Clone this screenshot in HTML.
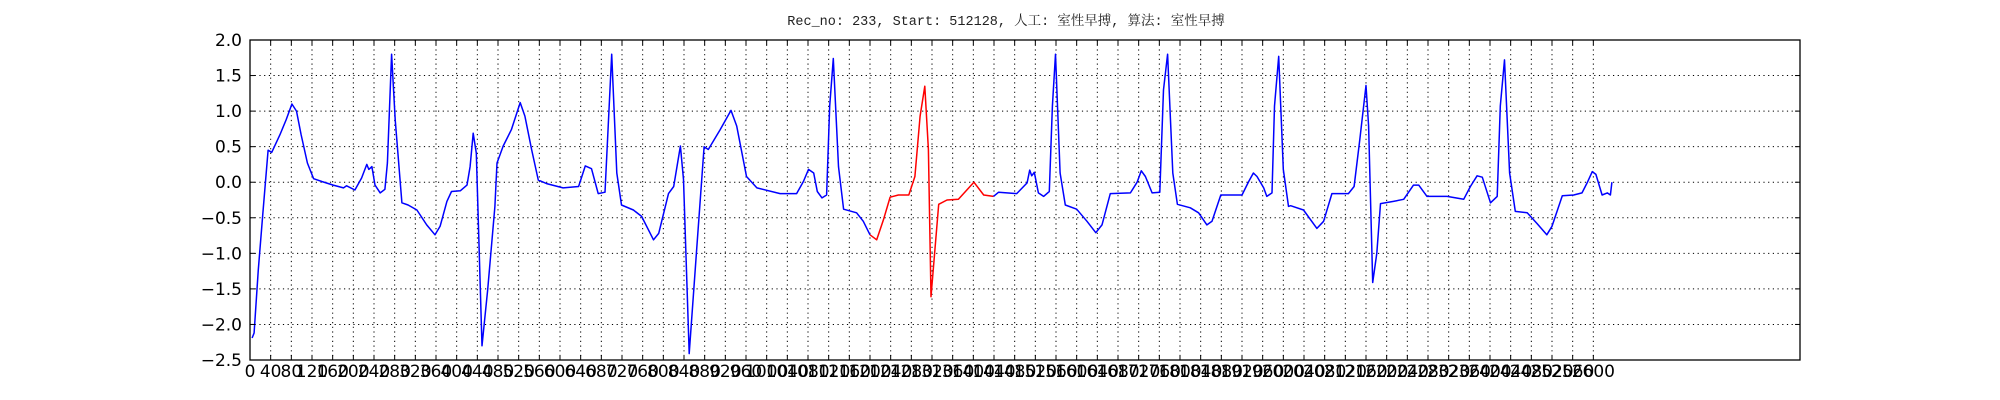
<!DOCTYPE html>
<html><head><meta charset="utf-8">
<style>
html,body{margin:0;padding:0;background:#fff;}
svg{display:block;}
text{font-family:"DejaVu Sans","Liberation Sans",sans-serif;}
</style></head>
<body>
<svg id="chart" width="2000" height="400" xmlns="http://www.w3.org/2000/svg">
  <rect width="2000" height="400" fill="#fff"/>
  <text x="1006" y="25" text-anchor="middle" font-size="13.5" fill="#222" style="font-family:'Liberation Mono','Noto Serif CJK SC',monospace">Rec_no: 233, Start: 512128, 人工: 室性早搏, 算法: 室性早搏</text>
  <g id="grid"></g>
  <g id="series"></g>
  <rect x="250" y="40" width="1550" height="320" fill="none" stroke="#000" stroke-width="1.3"/>
  <g id="ticks"></g>
</svg>
<script>
const samples = [4,8,16,25,35,42,58,70,81,90,99,111,123,139,161,181,187,203,216,226,230,236,242,252,261,266,274,281,294,306,323,342,358,368,381,390,407,420,426,432,438,449,460,474,478,490,506,523,532,545,558,574,606,636,649,661,674,687,700,710,719,742,758,781,791,810,820,833,839,850,865,879,887,910,931,942,961,981,1026,1058,1071,1081,1091,1098,1107,1116,1122,1129,1139,1149,1174,1187,1200,1213,1226,1239,1255,1275,1287,1297,1306,1313,1318,1333,1349,1371,1401,1420,1439,1449,1484,1504,1509,1513,1518,1526,1536,1547,1553,1559,1568,1578,1600,1620,1637,1649,1665,1704,1717,1725,1733,1746,1761,1768,1776,1786,1795,1820,1836,1852,1862,1879,1920,1933,1942,1949,1962,1968,1978,1983,1991,2000,2010,2014,2039,2065,2078,2094,2126,2137,2148,2160,2165,2173,2181,2188,2213,2233,2252,2262,2278,2317,2349,2362,2375,2385,2401,2414,2420,2428,2438,2449,2472,2491,2510,2520,2540,2562,2578,2588,2598,2605,2617,2627,2633,2636];
const values = [-2.19,-2.12,-1.23,-0.43,0.45,0.42,0.67,0.88,1.10,1.0,0.67,0.27,0.05,0.01,-0.04,-0.08,-0.05,-0.11,0.06,0.25,0.18,0.22,-0.04,-0.15,-0.10,0.27,1.80,0.88,-0.29,-0.32,-0.39,-0.60,-0.74,-0.62,-0.27,-0.13,-0.12,-0.04,0.22,0.69,0.41,-2.30,-1.51,-0.34,0.27,0.51,0.74,1.12,0.93,0.46,0.03,-0.02,-0.08,-0.06,0.23,0.19,-0.16,-0.14,1.80,0.13,-0.32,-0.39,-0.48,-0.81,-0.72,-0.16,-0.06,0.51,0.04,-2.41,-0.90,0.50,0.46,0.74,1.01,0.79,0.08,-0.08,-0.16,-0.16,0.01,0.18,0.13,-0.13,-0.22,-0.18,1.07,1.74,0.22,-0.38,-0.43,-0.55,-0.74,-0.81,-0.53,-0.21,-0.18,-0.18,0.08,0.93,1.35,0.46,-1.61,-0.31,-0.25,-0.24,0.0,-0.18,-0.20,-0.14,-0.16,-0.01,0.17,0.09,0.14,-0.15,-0.20,-0.13,1.07,1.80,0.13,-0.32,-0.38,-0.55,-0.71,-0.60,-0.16,-0.15,0.0,0.16,0.08,-0.15,-0.14,1.30,1.80,0.13,-0.31,-0.36,-0.43,-0.60,-0.55,-0.18,-0.18,0.01,0.13,0.08,-0.08,-0.20,-0.15,1.07,1.77,0.18,-0.34,-0.33,-0.39,-0.65,-0.55,-0.16,-0.16,-0.06,0.60,1.36,0.79,-1.41,-1.0,-0.30,-0.27,-0.24,-0.04,-0.04,-0.20,-0.20,-0.24,-0.06,0.09,0.07,-0.29,-0.20,1.07,1.72,0.13,-0.41,-0.43,-0.58,-0.74,-0.62,-0.19,-0.18,-0.15,-0.01,0.15,0.11,-0.18,-0.15,-0.18,0.0];
const redStart = 1200;
const redEnd = 1439;
const yTicks = [2.0,1.5,1.0,0.5,0.0,-0.5,-1.0,-1.5,-2.0,-2.5];
const yTickLabels = ["2.0","1.5","1.0","0.5","0.0","\u22120.5","\u22121.0","\u22121.5","\u22122.0","\u22122.5"];
const xTickStep = 40;
const xTickMax = 2600;

const X0=250,X1=1800,Y0=40,Y1=360,XMIN=0,XMAX=3000,YMIN=-2.5,YMAX=2.0;
function xs(v){return X0+(v-XMIN)/(XMAX-XMIN)*(X1-X0);}
function ys(v){return Y1-(v-YMIN)/(YMAX-YMIN)*(Y1-Y0);}
const NS="http://www.w3.org/2000/svg";
const grid=document.getElementById('grid'),ticks=document.getElementById('ticks'),series=document.getElementById('series');
function mk(tag,attrs,parent){const e=document.createElementNS(NS,tag);for(const k in attrs)e.setAttribute(k,attrs[k]);parent.appendChild(e);return e;}

for(let i=0;i<yTicks.length;i++){
  const y=ys(yTicks[i]);
  const g=mk('line',{x1:X0,x2:X1,y1:y,y2:y,stroke:'#000','stroke-width':1,'stroke-dasharray':'1.2,3.5'},grid);
  
  
  const t1=mk('line',{x1:X0,x2:X0+5,y1:y,y2:y,stroke:'#000','stroke-width':1},ticks);
  
  
  const t2=mk('line',{x1:X1-5,x2:X1,y1:y,y2:y,stroke:'#000','stroke-width':1},ticks);
  
  
  const lb=mk('text',{x:X0-8,y:y+6,'text-anchor':'end','font-size':17,fill:'#000'},ticks);
  lb.textContent=yTickLabels[i];
  
  
}
for(let v=0;v<=xTickMax;v+=xTickStep){
  const x=xs(v);
  const g=mk('line',{x1:x,x2:x,y1:Y0,y2:Y1,stroke:'#000','stroke-width':1,'stroke-dasharray':'1.2,3.5'},grid);
  
  
  const t1=mk('line',{x1:x,x2:x,y1:Y1-5,y2:Y1,stroke:'#000','stroke-width':1},ticks);
  
  
  const t2=mk('line',{x1:x,x2:x,y1:Y0,y2:Y0+5,stroke:'#000','stroke-width':1},ticks);
  
  
  const lb=mk('text',{x:x,y:Y1+17,'text-anchor':'middle','font-size':17,fill:'#000'},ticks);
  lb.textContent=String(v);
  
  
}
function seg(filter,color,name){
  const pts=[];
  for(let i=0;i<samples.length;i++){if(filter(samples[i]))pts.push(xs(samples[i]).toFixed(1)+','+ys(values[i]).toFixed(1));}
  const p=mk('polyline',{points:pts.join(' '),fill:'none',stroke:color,'stroke-width':1.5,'stroke-linejoin':'round'},series);
  
  
}
seg(s=>s<=redStart,'#0000ff','ecg-line-before');
seg(s=>s>=redStart&&s<=redEnd,'#ff0000','ecg-line-pvc');
seg(s=>s>=redEnd,'#0000ff','ecg-line-after');
</script>
</body></html>
